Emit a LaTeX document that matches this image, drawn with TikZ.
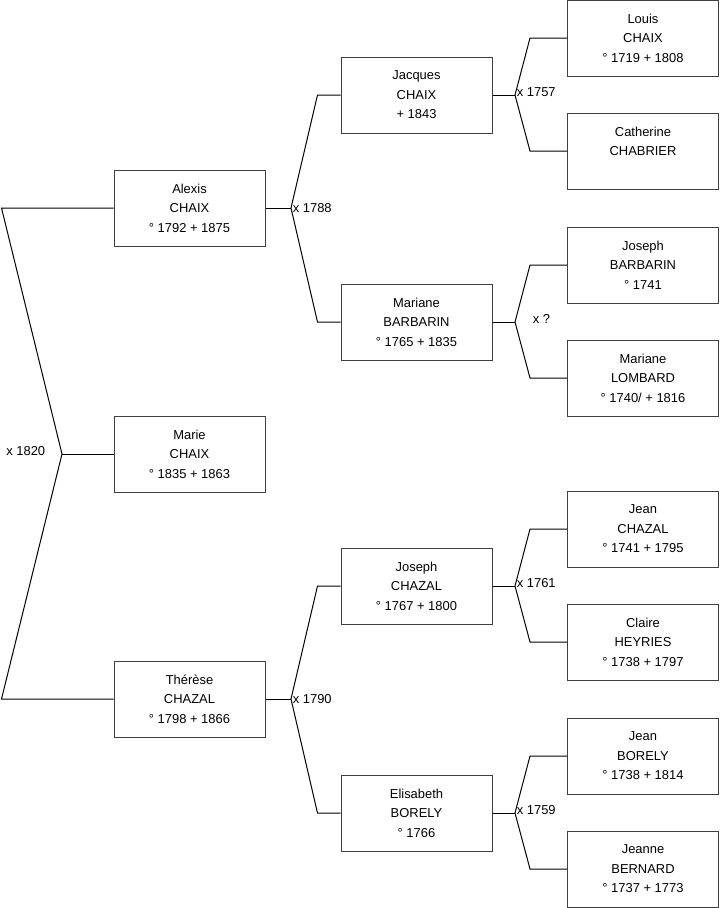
\documentclass[tikz,border=0pt]{standalone}
\usepackage{fontspec}
\setmainfont{Liberation Sans}
\usetikzlibrary{positioning}

\tikzset{
  personbox/.style={draw=black!75,fill=white,line width=0.75pt,minimum width=113.25pt,minimum height=57pt,inner sep=0pt,align=center,font=\fontsize{9.7}{14.6}\selectfont},
  marriage/.style={anchor=west,inner sep=1pt,font=\fontsize{9.7}{11}\selectfont}
}

\begin{document}
\begin{tikzpicture}[x=0.75pt,y=-0.75pt,line width=0.75pt]
\useasboundingbox (0,0) rectangle (719,908);
% first column
\node[personbox] (alexis) at (189.5,208) {Alexis\\CHAIX\\° 1792 + 1875};
\node[personbox] (marie) at (189.5,454) {Marie\\CHAIX\\° 1835 + 1863};
\node[personbox] (therese) at (189.5,699) {Thérèse\\CHAZAL\\° 1798 + 1866};
% parents
\node[personbox] (jacques) at (416.5,95) {Jacques\\CHAIX\\+ 1843};
\node[personbox] (marianeb) at (416.5,322) {Mariane\\BARBARIN\\° 1765 + 1835};
\node[personbox] (josephc) at (416.5,586) {Joseph\\CHAZAL\\° 1767 + 1800};
\node[personbox] (elisabeth) at (416.5,813) {Elisabeth\\BORELY\\° 1766};
% grandparents
\node[personbox] (louis) at (643,38) {Louis\\CHAIX\\° 1719 + 1808};
\node[personbox] (catherine) at (643,151) {Catherine\\CHABRIER\\~};
\node[personbox] (josephb) at (643,265) {Joseph\\BARBARIN\\° 1741};
\node[personbox] (marianel) at (643,378) {Mariane\\LOMBARD\\° 1740/ + 1816};
\node[personbox] (jeanc) at (643,529) {Jean\\CHAZAL\\° 1741 + 1795};
\node[personbox] (claire) at (643,642) {Claire\\HEYRIES\\° 1738 + 1797};
\node[personbox] (jeanb) at (643,756) {Jean\\BORELY\\° 1738 + 1814};
\node[personbox] (jeanne) at (643,869) {Jeanne\\BERNARD\\° 1737 + 1773};

% x 1820
\coordinate (v1820) at (62,454);
\coordinate (a1820) at (1.5,208);
\coordinate (b1820) at (1.5,699);
\draw (alexis.west) -- (a1820) -- (v1820) -- (b1820) -- (therese.west);
\draw (v1820) -- (marie.west);
\node[anchor=east,inner sep=1pt,font=\fontsize{9.7}{11}\selectfont] (m1820) at (47,451) {x 1820};

% x 1788 and x 1790
\coordinate (v1788) at (291,208);
\draw (alexis.east) -- (v1788);
\draw (jacques.west) -- ++(-23,0) -- (v1788) -- ([xshift=-17.25pt]marianeb.west) -- (marianeb.west);
\node[marriage] (m1788) at (v1788) {x 1788};
\coordinate (v1790) at (291,699);
\draw (therese.east) -- (v1790);
\draw (josephc.west) -- ++(-23,0) -- (v1790) -- ([xshift=-17.25pt]elisabeth.west) -- (elisabeth.west);
\node[marriage] (m1790) at (v1790) {x 1790};

% grandparents
\coordinate (v1757) at (515,95);
\draw (jacques.east) -- (v1757);
\draw (louis.west) -- ++(-37,0) -- (v1757) -- ([xshift=-27.75pt]catherine.west) -- (catherine.west);
\node[marriage] (m1757) at ([yshift=2pt]v1757) {x 1757};
\coordinate (vq) at (515,322);
\draw (marianeb.east) -- (vq);
\draw (josephb.west) -- ++(-37,0) -- (vq) -- ([xshift=-27.75pt]marianel.west) -- (marianel.west);
\node[marriage] (mq) at ([xshift=12pt,yshift=2pt]vq) {x ?};
\coordinate (v1761) at (515,586);
\draw (josephc.east) -- (v1761);
\draw (jeanc.west) -- ++(-37,0) -- (v1761) -- ([xshift=-27.75pt]claire.west) -- (claire.west);
\node[marriage] (m1761) at ([yshift=2pt]v1761) {x 1761};
\coordinate (v1759) at (515,813);
\draw (elisabeth.east) -- (v1759);
\draw (jeanb.west) -- ++(-37,0) -- (v1759) -- ([xshift=-27.75pt]jeanne.west) -- (jeanne.west);
\node[marriage] (m1759) at ([yshift=2pt]v1759) {x 1759};
\end{tikzpicture}
\end{document}
